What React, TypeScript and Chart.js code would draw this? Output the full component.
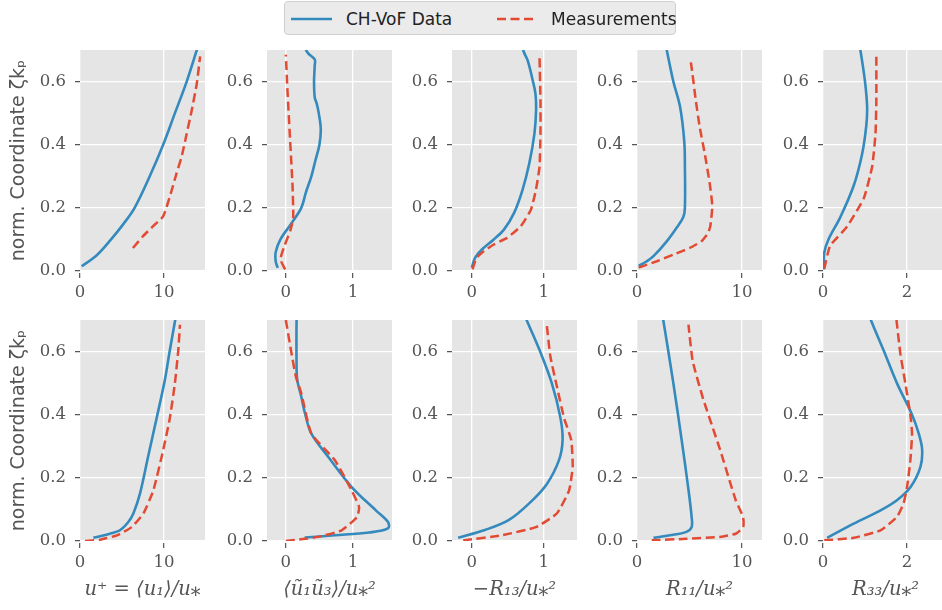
import React, { useEffect, useRef } from 'react';
import { Chart, registerables } from 'chart.js';

Chart.register(...registerables);

// ---------- data (x values = quantity, y values = normalised coordinate zeta*kp) ----------
// Row 1
const r1c1SimX = [0.2, 2.0, 3.7, 5.2, 6.5, 8.3, 9.9, 11.3, 12.7, 13.9, 14.1];
const r1c1SimY = [0.015, 0.05, 0.1, 0.15, 0.2, 0.3, 0.4, 0.5, 0.6, 0.7, 0.72];
const r1c1MeasX = [6.3, 7.5, 8.7, 9.9, 10.7, 11.5, 12.1, 12.7, 13.3, 13.9, 14.3];
const r1c1MeasY = [0.073, 0.11, 0.142, 0.173, 0.236, 0.31, 0.362, 0.435, 0.509, 0.593, 0.68];

const r1c2SimX = [-0.12, -0.15, -0.15, -0.08, 0.08, 0.23, 0.3, 0.38, 0.44, 0.5, 0.52, 0.49, 0.46, 0.43, 0.42, 0.43, 0.43, 0.33, 0.25];
const r1c2SimY = [0.01, 0.03, 0.06, 0.1, 0.15, 0.2, 0.25, 0.3, 0.35, 0.4, 0.45, 0.5, 0.53, 0.55, 0.6, 0.65, 0.67, 0.69, 0.72];
const r1c2MeasX = [-0.01, -0.08, -0.02, 0.07, 0.11, 0.1, 0.065, 0.025, 0.0];
const r1c2MeasY = [0.005, 0.037, 0.08, 0.13, 0.17, 0.27, 0.41, 0.57, 0.685];

const r1c3SimX = [0.0, 0.047, 0.14, 0.305, 0.446, 0.587, 0.704, 0.798, 0.869, 0.892, 0.883, 0.845, 0.775, 0.718, 0.7];
const r1c3SimY = [0.0105, 0.042, 0.068, 0.1, 0.131, 0.184, 0.257, 0.341, 0.435, 0.509, 0.562, 0.604, 0.667, 0.696, 0.72];
const r1c3MeasX = [0.01, 0.06, 0.14, 0.305, 0.49, 0.68, 0.82, 0.89, 0.94, 0.953, 0.953, 0.94];
const r1c3MeasY = [0.005, 0.04, 0.058, 0.084, 0.105, 0.142, 0.194, 0.257, 0.33, 0.435, 0.54, 0.677];

const r1c4SimX = [0.16, 0.9, 1.57, 2.83, 3.77, 4.4, 4.56, 4.56, 4.5, 4.1, 3.46, 2.83, 2.7];
const r1c4SimY = [0.016, 0.03, 0.047, 0.094, 0.137, 0.17, 0.2, 0.33, 0.41, 0.52, 0.6, 0.7, 0.72];
const r1c4MeasX = [0.16, 1.89, 3.46, 5.03, 6.13, 6.76, 6.98, 7.17, 6.92, 6.45, 5.97, 5.6, 5.28, 5.13];
const r1c4MeasY = [0.0105, 0.031, 0.052, 0.073, 0.094, 0.12, 0.142, 0.205, 0.278, 0.372, 0.456, 0.54, 0.624, 0.661];

const r1c5SimX = [0.02, 0.03, 0.13, 0.41, 0.73, 0.93, 1.03, 1.05, 1.0, 0.89, 0.86];
const r1c5SimY = [0.005, 0.058, 0.1, 0.17, 0.27, 0.37, 0.46, 0.52, 0.6, 0.7, 0.72];
const r1c5MeasX = [0.03, 0.17, 0.57, 0.97, 1.17, 1.25, 1.27, 1.27];
const r1c5MeasY = [0.007, 0.08, 0.14, 0.23, 0.33, 0.435, 0.54, 0.68];

// Row 2
const r2c1SimX = [1.59, 3.57, 4.76, 5.75, 6.35, 7.14, 8.13, 9.13, 10.1, 10.7, 11.3, 11.45];
const r2c1SimY = [0.01, 0.023, 0.034, 0.06, 0.087, 0.15, 0.27, 0.39, 0.51, 0.605, 0.695, 0.72];
const r2c1MeasX = [0.6, 2.4, 4.4, 6.15, 7.54, 8.73, 9.92, 10.7, 11.3, 11.7, 11.9];
const r2c1MeasY = [0.0, 0.004, 0.018, 0.044, 0.087, 0.16, 0.29, 0.39, 0.5, 0.605, 0.685];

const r2c2SimX = [0.28, 0.73, 1.24, 1.52, 1.52, 1.34, 0.98, 0.63, 0.38, 0.29, 0.23, 0.17, 0.16, 0.16, 0.17];
const r2c2SimY = [0.011, 0.018, 0.027, 0.04, 0.06, 0.097, 0.171, 0.267, 0.34, 0.4, 0.457, 0.51, 0.553, 0.7, 0.72];
const r2c2MeasX = [0.0, 0.25, 0.48, 0.83, 1.06, 1.09, 0.98, 0.73, 0.38, 0.23, 0.15, 0.076, 0.0, -0.02];
const r2c2MeasY = [0.0, 0.006, 0.013, 0.034, 0.076, 0.108, 0.16, 0.256, 0.34, 0.468, 0.52, 0.605, 0.7, 0.72];

const r2c3SimX = [-0.19, 0.17, 0.51, 0.8, 1.04, 1.21, 1.26, 1.23, 1.11, 0.94, 0.76, 0.72];
const r2c3SimY = [0.01, 0.034, 0.066, 0.12, 0.18, 0.256, 0.32, 0.39, 0.5, 0.605, 0.7, 0.72];
const r2c3MeasX = [-0.12, 0.41, 0.89, 1.18, 1.35, 1.4, 1.38, 1.28, 1.18, 1.09, 1.04];
const r2c3MeasY = [0.002, 0.018, 0.044, 0.087, 0.16, 0.235, 0.32, 0.39, 0.49, 0.585, 0.685];

const r2c4SimX = [1.57, 3.14, 4.7, 5.2, 5.2, 4.87, 4.25, 3.46, 2.5, 2.4];
const r2c4SimY = [0.01, 0.018, 0.029, 0.044, 0.076, 0.17, 0.32, 0.5, 0.7, 0.72];
const r2c4MeasX = [1.4, 4.7, 7.9, 9.4, 10.1, 10.1, 9.4, 7.9, 6.3, 5.3, 4.9];
const r2c4MeasY = [0.002, 0.007, 0.013, 0.023, 0.044, 0.076, 0.129, 0.29, 0.45, 0.57, 0.685];

const r2c5SimX = [0.1, 0.73, 1.37, 1.76, 2.08, 2.32, 2.36, 2.28, 2.12, 1.76, 1.44, 1.14, 1.1];
const r2c5SimY = [0.01, 0.055, 0.097, 0.129, 0.17, 0.235, 0.29, 0.34, 0.4, 0.5, 0.605, 0.7, 0.72];
const r2c5MeasX = [0.03, 0.73, 1.37, 1.76, 1.92, 2.0, 2.08, 2.12, 2.08, 1.96, 1.84, 1.75, 1.74];
const r2c5MeasY = [0.002, 0.01, 0.034, 0.076, 0.12, 0.17, 0.256, 0.34, 0.4, 0.5, 0.595, 0.7, 0.72];

// axes
const yTicks = [0, 0.2, 0.4, 0.6];
const yLimits = [0, 0.7];
const xTicks = [[0, 10], [0, 1], [0, 1], [0, 10], [0, 2]];
const xLimits = [[0, 14.88], [-0.28, 1.58], [-0.275, 1.46], [0, 11.9], [0, 2.976]];
const xTitles = ['u⁺ = ⟨u₁⟩/u⁎', '⟨ũ₁ũ₃⟩/u⁎²', '−R₁₃/u⁎²', 'R₁₁/u⁎²', 'R₃₃/u⁎²'];
const yTitle = 'norm. Coordinate ζkₚ';
const legendLabels = ['CH-VoF Data', 'Measurements'];

// ---------- style / layout ----------
const BLUE = '#348ABD';
const RED = '#E24A33';
const PANEL_BG = '#E5E5E5';
const TICK_COLOR = '#555555';
const TICK_FONT = { family: 'DejaVu Serif', size: 16.5 };
const COL_LEFT = [80, 267, 452, 637, 823];
const ROW_TOP = [50, 320];
const PW = 125;
const PH = 221;
const PT = 24;
const PR = 12;

type Series = { x: number[]; y: number[] };
type PanelData = { sim: Series; meas: Series };

const PANELS: PanelData[][] = [
  [
    { sim: { x: r1c1SimX, y: r1c1SimY }, meas: { x: r1c1MeasX, y: r1c1MeasY } },
    { sim: { x: r1c2SimX, y: r1c2SimY }, meas: { x: r1c2MeasX, y: r1c2MeasY } },
    { sim: { x: r1c3SimX, y: r1c3SimY }, meas: { x: r1c3MeasX, y: r1c3MeasY } },
    { sim: { x: r1c4SimX, y: r1c4SimY }, meas: { x: r1c4MeasX, y: r1c4MeasY } },
    { sim: { x: r1c5SimX, y: r1c5SimY }, meas: { x: r1c5MeasX, y: r1c5MeasY } },
  ],
  [
    { sim: { x: r2c1SimX, y: r2c1SimY }, meas: { x: r2c1MeasX, y: r2c1MeasY } },
    { sim: { x: r2c2SimX, y: r2c2SimY }, meas: { x: r2c2MeasX, y: r2c2MeasY } },
    { sim: { x: r2c3SimX, y: r2c3SimY }, meas: { x: r2c3MeasX, y: r2c3MeasY } },
    { sim: { x: r2c4SimX, y: r2c4SimY }, meas: { x: r2c4MeasX, y: r2c4MeasY } },
    { sim: { x: r2c5SimX, y: r2c5SimY }, meas: { x: r2c5MeasX, y: r2c5MeasY } },
  ],
];

const toPts = (s: Series) => s.x.map((x, i) => ({ x, y: s.y[i] }));

const bgPlugin = {
  id: 'panelBg',
  beforeDraw(chart: any) {
    const { ctx, chartArea } = chart;
    ctx.save();
    ctx.fillStyle = PANEL_BG;
    ctx.fillRect(chartArea.left, chartArea.top, chartArea.right - chartArea.left, chartArea.bottom - chartArea.top);
    ctx.restore();
  },
};

function Panel({ row, col }: { row: number; col: number }) {
  const ref = useRef<HTMLCanvasElement>(null);
  const padL = col === 0 ? 80 : 70;
  const xh = row === 0 ? 34 : 70;
  const W = padL + PW + PR;
  const H = PT + PH + xh;
  const data = PANELS[row][col];

  useEffect(() => {
    const chart = new Chart(ref.current as HTMLCanvasElement, {
      type: 'scatter',
      data: {
        datasets: [
          {
            data: toPts(data.meas),
            showLine: true,
            borderColor: RED,
            backgroundColor: RED,
            borderWidth: 2.5,
            borderDash: [9, 4.5],
            pointRadius: 0,
            tension: 0.15,
            order: 1,
            clip: 0,
          } as any,
          {
            data: toPts(data.sim),
            showLine: true,
            borderColor: BLUE,
            backgroundColor: BLUE,
            borderWidth: 2.6,
            pointRadius: 0,
            tension: 0.35,
            order: 2,
            clip: 0,
          } as any,
        ],
      },
      options: {
        animation: false,
        responsive: false,
        devicePixelRatio: 1,
        events: [],
        layout: { padding: { top: PT, right: PR, left: 0, bottom: 0 } },
        plugins: { legend: { display: false }, tooltip: { enabled: false } },
        scales: {
          x: {
            type: 'linear',
            min: xLimits[col][0],
            max: xLimits[col][1],
            afterBuildTicks: (s: any) => {
              s.ticks = xTicks[col].map((v) => ({ value: v }));
            },
            afterFit: (s: any) => {
              s.height = xh;
            },
            border: { display: false },
            grid: {
              color: '#ffffff',
              lineWidth: 1.3,
              tickColor: TICK_COLOR,
              tickLength: 7,
              tickWidth: 1.2,
              tickBorderDash: [0, 2, 5, 30],
            },
            ticks: {
              autoSkip: false,
              maxRotation: 0,
              minRotation: 0,
              padding: 5,
              color: TICK_COLOR,
              font: TICK_FONT,
              callback: (v: any) => String(v),
            },
            title: {
              display: row === 1,
              text: xTitles[col],
              color: TICK_COLOR,
              font: { family: 'DejaVu Serif', size: 19.5, style: 'italic' },
              padding: { top: 0, bottom: 9 },
            },
          },
          y: {
            type: 'linear',
            min: yLimits[0],
            max: yLimits[1],
            afterBuildTicks: (s: any) => {
              s.ticks = yTicks.map((v) => ({ value: v }));
            },
            afterFit: (s: any) => {
              s.width = padL;
            },
            border: { display: false },
            grid: {
              color: '#ffffff',
              lineWidth: 1.3,
              tickColor: TICK_COLOR,
              tickLength: 8,
              tickWidth: 1.2,
              tickBorderDash: [0, 3, 5, 30],
            },
            ticks: {
              autoSkip: false,
              padding: 6,
              color: TICK_COLOR,
              font: TICK_FONT,
              callback: (v: any) => Number(v).toFixed(1),
            },
            title: {
              display: col === 0,
              text: yTitle,
              color: TICK_COLOR,
              font: { family: 'DejaVu Sans', size: 19 },
              padding: { top: 8, bottom: 0 },
            },
          },
        },
      } as any,
      plugins: [bgPlugin],
    });
    return () => chart.destroy();
  }, []);

  return (
    <canvas
      ref={ref}
      width={W}
      height={H}
      style={{
        position: 'absolute',
        left: COL_LEFT[col] - padL,
        top: ROW_TOP[row] - PT,
        width: W,
        height: H,
      }}
    />
  );
}

function Legend() {
  const textStyle: React.CSSProperties = {
    position: 'absolute',
    top: 6,
    fontFamily: 'DejaVu Sans',
    fontSize: 17,
    lineHeight: '22px',
    color: '#222',
    whiteSpace: 'nowrap',
  };
  return (
    <div
      style={{
        position: 'absolute',
        left: 284,
        top: 1,
        width: 390,
        height: 32,
        background: '#EBEBEB',
        border: '1px solid #CFCFCF',
        borderRadius: 4,
      }}
    >
      <svg style={{ position: 'absolute', left: 6, top: 14 }} width={42} height={6}>
        <line x1={0} y1={3} x2={41} y2={3} stroke={BLUE} strokeWidth={2.5} />
      </svg>
      <span style={{ ...textStyle, left: 61 }}>{legendLabels[0]}</span>
      <svg style={{ position: 'absolute', left: 212, top: 14 }} width={42} height={6}>
        <line x1={0} y1={3} x2={40} y2={3} stroke={RED} strokeWidth={2.5} strokeDasharray="9 4.5" />
      </svg>
      <span style={{ ...textStyle, left: 266 }}>{legendLabels[1]}</span>
    </div>
  );
}

export default function App() {
  useEffect(() => {
    document.body.style.margin = '0';
  }, []);
  return (
    <div
      style={{
        position: 'fixed',
        left: 0,
        top: 0,
        width: 942,
        height: 610,
        overflow: 'hidden',
        background: '#ffffff',
      }}
    >
      {[0, 1].map((r) => [0, 1, 2, 3, 4].map((c) => <Panel key={`${r}-${c}`} row={r} col={c} />))}
      <Legend />
    </div>
  );
}
